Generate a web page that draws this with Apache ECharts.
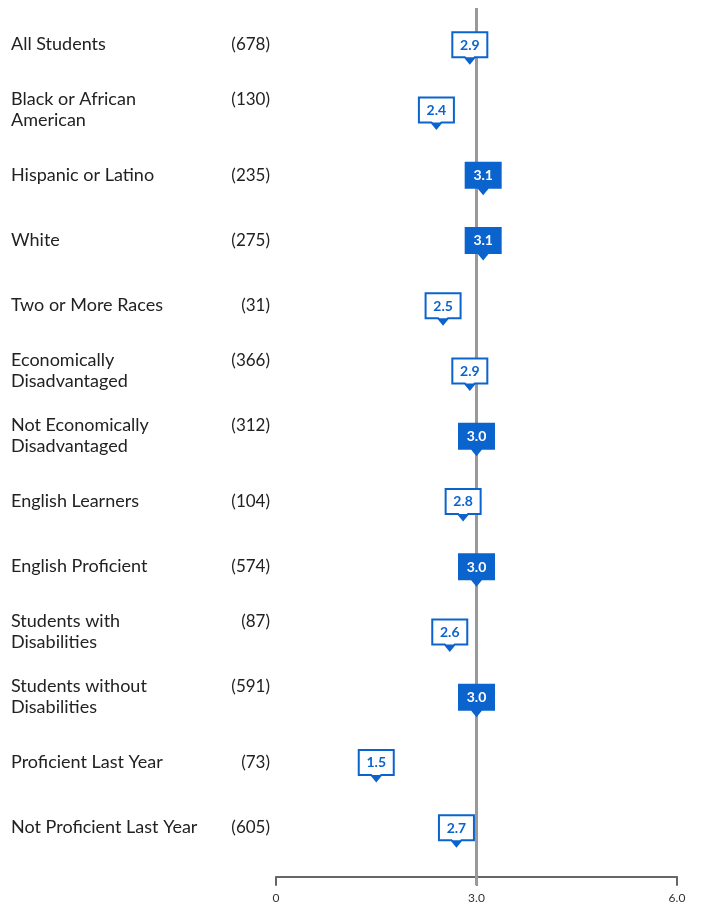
<!DOCTYPE html>
<html>
<head>
<meta charset="utf-8">
<title>Scores by group</title>
<script src="https://cdn.jsdelivr.net/npm/echarts@6/dist/echarts.min.js"></script>
<style>
  html, body { margin: 0; padding: 0; background: #fff; }
  #chart { width: 702px; height: 907px; }
</style>
</head>
<body>
<div id="chart"></div>
<script>
// groups, counts and scores
var groups = [
  'All Students',
  'Black or African\nAmerican',
  'Hispanic or Latino',
  'White',
  'Two or More Races',
  'Economically\nDisadvantaged',
  'Not Economically\nDisadvantaged',
  'English Learners',
  'English Proficient',
  'Students with\nDisabilities',
  'Students without\nDisabilities',
  'Proficient Last Year',
  'Not Proficient Last Year'
];
var counts = [678, 130, 235, 275, 31, 366, 312, 104, 574, 87, 591, 73, 605];
var scores = [2.9, 2.4, 3.1, 3.1, 2.5, 2.9, 3.0, 2.8, 3.0, 2.6, 3.0, 1.5, 2.7];
var benchmark = 3.0;
var xTicks = [0, 3, 6];

var blue = '#0b64cd';

var chart = echarts.init(document.getElementById('chart'));

var points = [];
for (var i = 0; i < scores.length; i++) {
  points.push([scores[i], i]);
}

// callout marker: box on the row, small pointer down to the value
var renderMarker = function (params, api) {
  var v = api.value(0);
  var pt = api.coord([v, api.value(1)]);
  var filled = v >= benchmark;
  var x = pt[0], y = pt[1];
  var w = 35, h = 25;
  var l = x - w / 2, r = x + w / 2, t = y - h / 2, b = y + h / 2;
  return {
    type: 'group',
    children: [
      {
        type: 'polygon',
        shape: { points: [[l, t], [r, t], [r, b], [x + 5, b], [x, b + 6], [x - 5, b], [l, b]] },
        style: { fill: filled ? blue : '#fff', stroke: blue, lineWidth: 2 }
      },
      {
        type: 'polygon',
        shape: { points: [[x + 5, b], [x, b + 6], [x - 5, b]] },
        style: { fill: blue }
      },
      {
        type: 'text',
        x: x,
        y: y + 0.5,
        style: {
          text: v.toFixed(1),
          fill: filled ? '#fff' : blue,
          font: 'bold 14px Lato',
          align: 'center',
          verticalAlign: 'middle'
        }
      }
    ]
  };
};

// grey benchmark line, runs a bit past the plot top and through the axis
var renderBenchmark = function (params, api) {
  var x = api.coord([api.value(0), 0])[0];
  var cs = params.coordSys;
  return {
    type: 'line',
    shape: { x1: x, y1: cs.y - 4, x2: x, y2: cs.y + cs.height + 25 },
    style: { stroke: '#999', lineWidth: 3 }
  };
};

var option = {
  animation: false,
  backgroundColor: '#fff',
  textStyle: { fontFamily: 'Lato' },
  grid: {
    left: 276,
    right: 25,
    top: 12,
    height: 848.3
  },
  xAxis: {
    type: 'value',
    min: 0,
    max: 6,
    interval: 3,
    offset: 16.5,
    axisLine: { show: true, lineStyle: { color: '#666', width: 2 } },
    axisTick: { show: true, length: 9, lineStyle: { color: '#666', width: 2 } },
    splitLine: { show: false },
    axisLabel: {
      color: '#333',
      fontSize: 12,
      margin: 15,
      formatter: function (v) {
        if (xTicks.indexOf(v) < 0) return '';
        return v === 0 ? '0' : v.toFixed(1);
      }
    }
  },
  yAxis: [
    {
      type: 'category',
      data: groups,
      inverse: true,
      position: 'left',
      axisLine: { show: false },
      axisTick: { show: false },
      splitLine: { show: false },
      axisLabel: {
        align: 'left',
        margin: 265,
        color: '#222',
        fontSize: 18,
        lineHeight: 21
      }
    },
    {
      type: 'category',
      data: groups,
      inverse: true,
      position: 'left',
      offset: 6,
      axisLine: { show: false },
      axisTick: { show: false },
      splitLine: { show: false },
      axisLabel: {
        margin: 0,
        color: '#222',
        fontSize: 17,
        lineHeight: 21,
        formatter: function (v, idx) {
          var s = '(' + counts[idx] + ')';
          // two-line names: count sits on the first line
          if (groups[idx].indexOf('\n') >= 0) s += '\n ';
          return s;
        }
      }
    }
  ],
  series: [
    {
      type: 'custom',
      name: 'benchmark',
      clip: false,
      z: 1,
      renderItem: renderBenchmark,
      data: [[benchmark]]
    },
    {
      type: 'custom',
      name: 'score',
      clip: false,
      z: 3,
      renderItem: renderMarker,
      encode: { x: 0, y: 1 },
      data: points
    }
  ]
};

chart.setOption(option);
</script>
</body>
</html>
